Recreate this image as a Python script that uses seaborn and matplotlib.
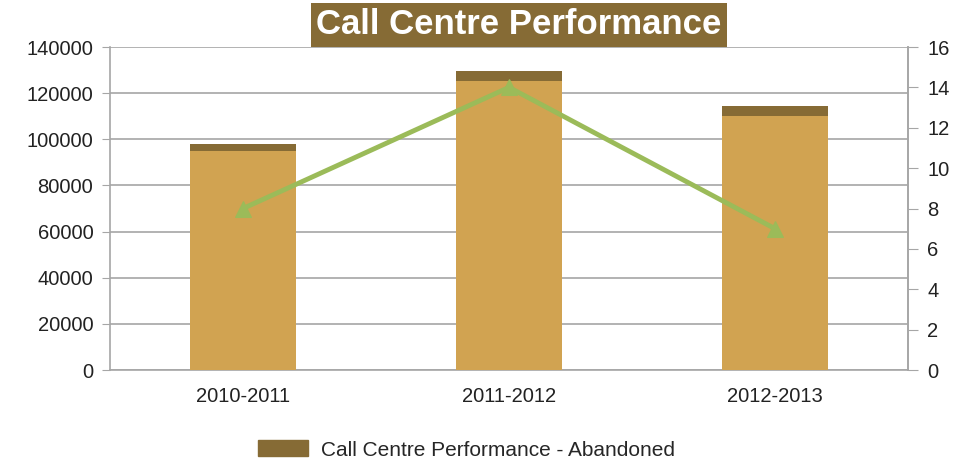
import pandas as pd
import matplotlib
matplotlib.use("Agg")
import matplotlib.pyplot as plt
import seaborn as sns
from matplotlib.patches import Patch

years = ['2010-2011', '2011-2012', '2012-2013']
answered = [95000, 125400, 110200]
abandoned = [2900, 4100, 4100]
line_vals = [8, 14, 7]

df = pd.DataFrame({'Year': years, 'Answered': answered, 'Abandoned': abandoned, 'Line': line_vals})
df['Total'] = df['Answered'] + df['Abandoned']

sns.set_style("white")
plt.rcParams['font.family'] = ['Liberation Sans', 'DejaVu Sans']

light = '#D1A351'
dark = '#866B35'
green = '#9BBB59'
grey = '#A6A6A6'
txt = '#222222'

fig = plt.figure(figsize=(9.68, 4.61), dpi=100)
ax = fig.add_axes([110 / 968, 1 - 370 / 461, 798 / 968, 323 / 461])

sns.barplot(data=df, x='Year', y='Total', color=dark, width=0.4, saturation=1,
            linewidth=0, ax=ax, zorder=2)
sns.barplot(data=df, x='Year', y='Answered', color=light, width=0.4, saturation=1,
            linewidth=0, ax=ax, zorder=3)

ax.set_ylim(0, 140000)
ax.set_yticks(range(0, 140001, 20000))
ax.set_xlim(-0.5, 2.5)
ax.set_xlabel('')
ax.set_ylabel('')
ax.yaxis.grid(True, color=grey, lw=1.2, zorder=0)
ax.set_axisbelow(True)
ax.set_xticks([-0.5, 0.5, 1.5, 2.5], minor=True)
ax.tick_params(axis='x', which='major', length=0, labelsize=14.5, pad=12, labelcolor=txt)
ax.tick_params(axis='x', which='minor', length=6, color=grey, direction='out')
ax.tick_params(axis='y', length=6, color=grey, labelsize=14.5, labelcolor=txt, left=True,
               direction='out', pad=6)
ax.spines['top'].set_visible(False)
for s in ['left', 'bottom', 'right']:
    ax.spines[s].set_color(grey)
    ax.spines[s].set_linewidth(1.2)

ax2 = ax.twinx()
sns.lineplot(x=[0, 1, 2], y=line_vals, ax=ax2, color=green, lw=3.5, marker='^',
             markersize=12, markeredgecolor=green, zorder=5)
ax2.set_ylim(0, 16)
ax2.set_yticks(range(0, 17, 2))
ax2.tick_params(axis='y', length=7, color=grey, labelsize=14.5, labelcolor=txt, right=True,
                direction='out', pad=7)
for s in ['top', 'left', 'bottom']:
    ax2.spines[s].set_visible(False)
ax2.spines['right'].set_color(grey)
ax2.spines['right'].set_linewidth(1.2)
ax2.set_xlim(-0.5, 2.5)

fig.text(0.536, 0.946, 'Call Centre Performance', ha='center', va='center', fontsize=25,
         fontweight='bold', color='white',
         bbox=dict(boxstyle='square,pad=0.16', fc=dark, ec='none'))

fig.legend(handles=[Patch(color=dark, label='Call Centre Performance - Abandoned')],
           loc='center', bbox_to_anchor=(0.482, 0.024), frameon=False, fontsize=15,
           handlelength=2.4, handleheight=0.8, handletextpad=0.6)

fig.savefig('out.png', dpi=100)
